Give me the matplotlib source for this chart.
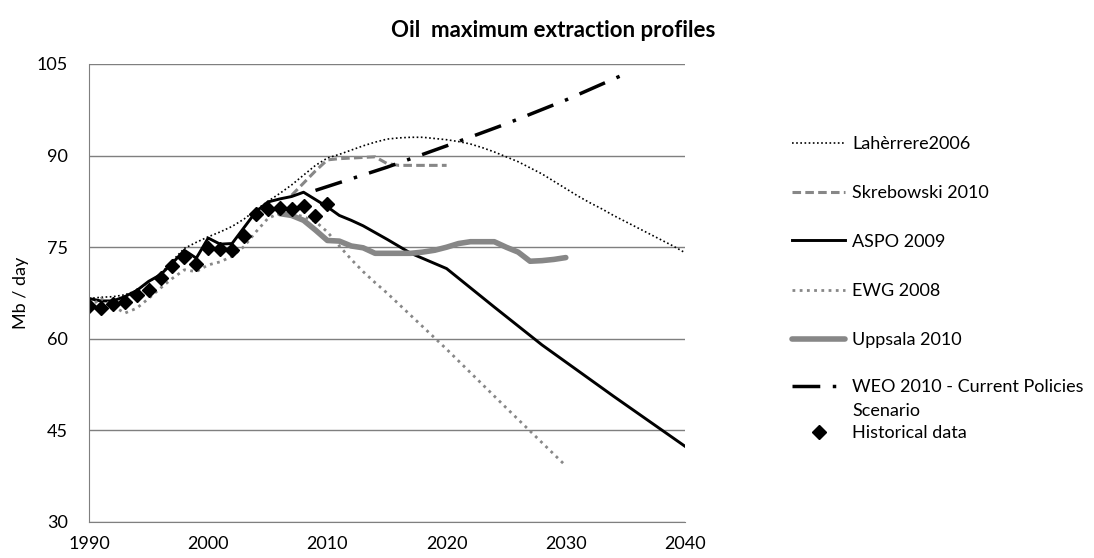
import matplotlib.pyplot as plt
from matplotlib.lines import Line2D

plt.rcParams['font.family'] = ['Lato', 'DejaVu Sans']

# historical production, Mb/day
hist_years = list(range(1990, 2011))
hist_vals = [65.4, 65.1, 65.7, 66.0, 67.1, 68.0, 69.9, 72.0, 73.4, 72.3, 74.9,
             74.7, 74.5, 76.8, 80.4, 81.2, 81.5, 81.3, 81.7, 80.1, 82.1]

laherrere_years = list(range(1990, 2041))
laherrere_vals = [66.6, 66.8, 66.9, 67.2, 67.9, 69.3, 70.6, 72.8, 74.8, 75.8, 76.7,
                  77.5, 78.4, 79.6, 81.1, 82.5, 83.8, 85.2, 86.8, 88.4, 89.6,
                  90.2, 90.9, 91.6, 92.2, 92.7, 92.9, 93.0, 93.0, 92.8, 92.6,
                  92.3, 91.9, 91.3, 90.6, 89.8, 89.0, 88.0, 87.0, 85.8, 84.6,
                  83.4, 82.3, 81.3, 80.2, 79.2, 78.2, 77.2, 76.2, 75.2, 74.1]

skrebowski_years = list(range(2007, 2021))
skrebowski_vals = [83.5, 85.5, 87.5, 89.3, 89.5, 89.6, 89.7, 89.8, 88.7, 88.4,
                   88.4, 88.4, 88.4, 88.4]

aspo_years = list(range(1990, 2014)) + [2015, 2017, 2020, 2024, 2028, 2034, 2040]
aspo_vals = [66.6, 66.2, 66.2, 66.9, 67.9, 69.4, 70.5, 72.4, 74.5, 73.2, 76.5,
             75.5, 75.6, 78.2, 80.8, 82.4, 82.9, 83.3, 84.0, 82.8, 81.6,
             80.2, 79.4, 78.5, 76.3, 74.0, 71.5, 65.2, 59.0, 50.6, 42.4]

ewg_years = list(range(1990, 2016)) + [2020, 2025, 2030]
ewg_vals = [65.2, 66.6, 65.4, 64.2, 65.0, 66.6, 68.3, 69.9, 71.3, 71.0, 72.1,
            72.6, 73.5, 75.1, 77.5, 79.7, 80.6, 80.5, 80.0, 79.2, 77.5,
            75.2, 73.0, 71.0, 69.2, 67.5, 58.3, 48.7, 39.2]

uppsala_years = list(range(2006, 2031))
uppsala_vals = [80.5, 80.2, 79.4, 77.8, 76.1, 76.0, 75.2, 74.9, 74.0, 74.0,
                74.0, 74.0, 74.2, 74.5, 75.0, 75.6, 75.9, 75.9, 75.9, 75.0,
                74.2, 72.7, 72.8, 73.0, 73.3]

weo_years = [2009, 2015, 2020, 2025, 2030, 2035]
weo_vals = [84.3, 88.1, 91.6, 95.2, 99.1, 103.4]

series = [
    ('Lahèrrere2006', laherrere_years, laherrere_vals,
     dict(color='black', lw=1.2, ls=(0, (1, 1.5)))),
    ('Skrebowski 2010', skrebowski_years, skrebowski_vals,
     dict(color='#878787', lw=2.2, ls=(0, (2.8, 1.4)))),
    ('ASPO 2009', aspo_years, aspo_vals,
     dict(color='black', lw=2.1)),
    ('EWG 2008', ewg_years, ewg_vals,
     dict(color='#878787', lw=2.0, ls=(0, (1, 1.6)))),
    ('Uppsala 2010', uppsala_years, uppsala_vals,
     dict(color='#878787', lw=4.0, solid_capstyle='round', solid_joinstyle='round')),
    ('WEO 2010 - Current Policies\nScenario', weo_years, weo_vals,
     dict(color='black', lw=2.5, ls=(0, (8, 3.6, 1, 3.6)))),
]

fig = plt.figure(figsize=(10.94, 5.58), dpi=100)
ax = fig.add_axes([89 / 1094, 1 - 522 / 558, 596 / 1094, 458 / 558])

for label, xs, ys, style in series:
    ax.plot(xs, ys, **style)
ax.plot(hist_years, hist_vals, ls='none', marker='D', ms=7.4, color='black')

ax.set_xlim(1990, 2040)
ax.set_ylim(30, 105)
ax.set_xticks(range(1990, 2041, 10))
ax.set_yticks(range(30, 106, 15))
ax.grid(axis='y', color='#7f7f7f', lw=1.0)
ax.set_axisbelow(True)
for side in ['top', 'right']:
    ax.spines[side].set_visible(False)
for side in ['left', 'bottom']:
    ax.spines[side].set_color('#7f7f7f')
ax.tick_params(length=0, labelsize=13)
ax.tick_params(axis='x', pad=10)
ax.tick_params(axis='y', pad=15)
ax.set_ylabel('Mb / day', fontsize=13, labelpad=6)

fig.text(0.506, 0.946, 'Oil  maximum extraction profiles', ha='center', va='center',
         fontsize=16, fontweight='bold')

# legend drawn by hand so the two-line WEO entry keeps its handle on the first line
x0, x1, xt = 792 / 1094, 845 / 1094, 852 / 1094
rows = [143, 192, 240, 290, 339, 386, 432]
for (label, xs, ys, style), ypx in zip(series, rows):
    y = 1 - ypx / 558
    fig.add_artist(Line2D([x0, x1], [y, y], transform=fig.transFigure, **style))
    fig.text(xt, y, label.split('\n')[0], ha='left', va='center_baseline', fontsize=13)
    if '\n' in label:
        fig.text(xt, y - 24 / 558, label.split('\n')[1], ha='left',
                 va='center_baseline', fontsize=13)
y = 1 - rows[-1] / 558
fig.add_artist(Line2D([(x0 + x1) / 2], [y], transform=fig.transFigure,
                      marker='D', ms=7.4, color='black', ls='none'))
fig.text(xt, y, 'Historical data', ha='left', va='center_baseline', fontsize=13)

fig.savefig('out.png', dpi=100)
